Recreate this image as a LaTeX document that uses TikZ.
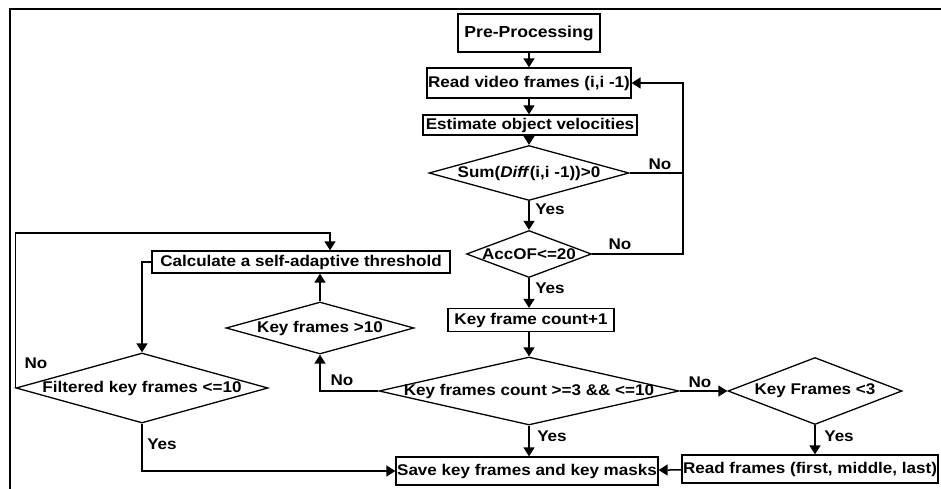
\documentclass[tikz,border=0pt]{standalone}
\usepackage{fontspec}
\setsansfont[FakeStretch=1.1]{Liberation Sans}
\usetikzlibrary{shapes.geometric,arrows.meta,positioning}

\begin{document}
\begin{tikzpicture}[x=1pt, y=-1pt,
	font=\sffamily\bfseries\fontsize{15.5}{17}\selectfont,
	box/.style={draw, line width=1.3pt, inner sep=1pt},
	decision/.style={draw, diamond, line width=1.3pt, inner sep=0pt},
	line/.style={line width=1.5pt},
	arrow/.style={line, -{Triangle[length=9pt,width=11pt]}},
	lbl/.style={inner sep=1pt}]
		\useasboundingbox (0,0) rectangle (941,489);
		\draw[line] (10,489) -- (10,9) -- (941,9);
		% main column
		\node[box, minimum width=142, minimum height=38, font=\sffamily\bfseries\fontsize{16}{18}\selectfont] (pre) at (529,33) {Pre-Processing};
		\node[box, minimum width=203, minimum height=30] (read) at (529,83) {Read video frames (i,i -1)};
		\node[box, minimum width=214, minimum height=20] (est) at (530,125) {Estimate object velocities};
		\node[decision, minimum width=200, minimum height=55, label=center:{Sum(\textit{Diff}(i,i -1))>0}] (sum) at (529,173) {};
		\node[decision, minimum width=125, minimum height=47, label=center:{AccOF<=20}] (acc) at (529,254) {};
		\node[box, minimum width=166, minimum height=23] (kcount) at (531,320) {Key frame count+1};
		\node[decision, minimum width=300, minimum height=68, label=center:{Key frames count >=3 \&\& <=10}] (krange) at (529,391) {};
		\node[box, minimum width=262, minimum height=28] (save) at (527,471) {Save key frames and key masks};
		% right branch
		\node[decision, minimum width=174, minimum height=67, label=center:{Key Frames <3}] (kless) at (815,391) {};
		\node[box, minimum width=254, minimum height=28] (rfirst) at (810,469) {Read frames (first, middle, last)};
		% left branch
		\node[decision, minimum width=188, minimum height=52, label=center:{Key frames >10}] (kmore) at (320,328) {};
		\node[box, minimum width=298, minimum height=22] (thresh) at (301,262) {Calculate a self-adaptive threshold};
		\node[decision, minimum width=252, minimum height=70, label=center:{Filtered key frames <=10}] (filt) at (142,388) {};
		\coordinate (backR) at (683,173);
		\coordinate (topC) at (330,233);
		% connectors
		\draw[arrow] (pre) -- (read);
		\draw[arrow] (read) -- (read |- est.north);
		\draw[arrow] (est.south -| sum) -- (sum);
		\draw[arrow] (sum.east) -- (backR) |- (read.east);
		\draw[arrow] (sum) -- (acc);
		\draw[line] (acc.east) -- (acc.east -| backR) -- (backR);
		\draw[arrow] (acc) -- (acc |- kcount.north);
		\draw[arrow] (kcount.south -| krange) -- (krange);
		\draw[arrow] (krange) -- (krange |- save.north);
		\draw[arrow] (krange.east) -- (kless.west);
		\draw[arrow] (kless) -- (kless |- rfirst.north);
		\draw[arrow] (rfirst) -- (save);
		\draw[arrow] (krange.west) -| (kmore.south);
		\draw[arrow] (kmore.north) -- (kmore.north |- thresh.south);
		\draw[arrow] (thresh.west) -| (filt.north);
		\draw[arrow] (filt.west) |- (topC) -- (topC |- thresh.north);
		\draw[arrow] (filt.south) |- (save.west);
		% yes / no labels
		\node[lbl] (no1) at (660,164) {No};
		\node[lbl] (no2) at (620,244) {No};
		\node[lbl] (no3) at (700,382) {No};
		\node[lbl] (no4) at (342,380) {No};
		\node[lbl] (no5) at (36,363) {No};
		\node[lbl] (yes1) at (550,209) {Yes};
		\node[lbl] (yes2) at (550,288) {Yes};
		\node[lbl] (yes3) at (552,436) {Yes};
		\node[lbl] (yes4) at (839,436) {Yes};
		\node[lbl] (yes5) at (162,444) {Yes};
	\end{tikzpicture}
\end{document}
